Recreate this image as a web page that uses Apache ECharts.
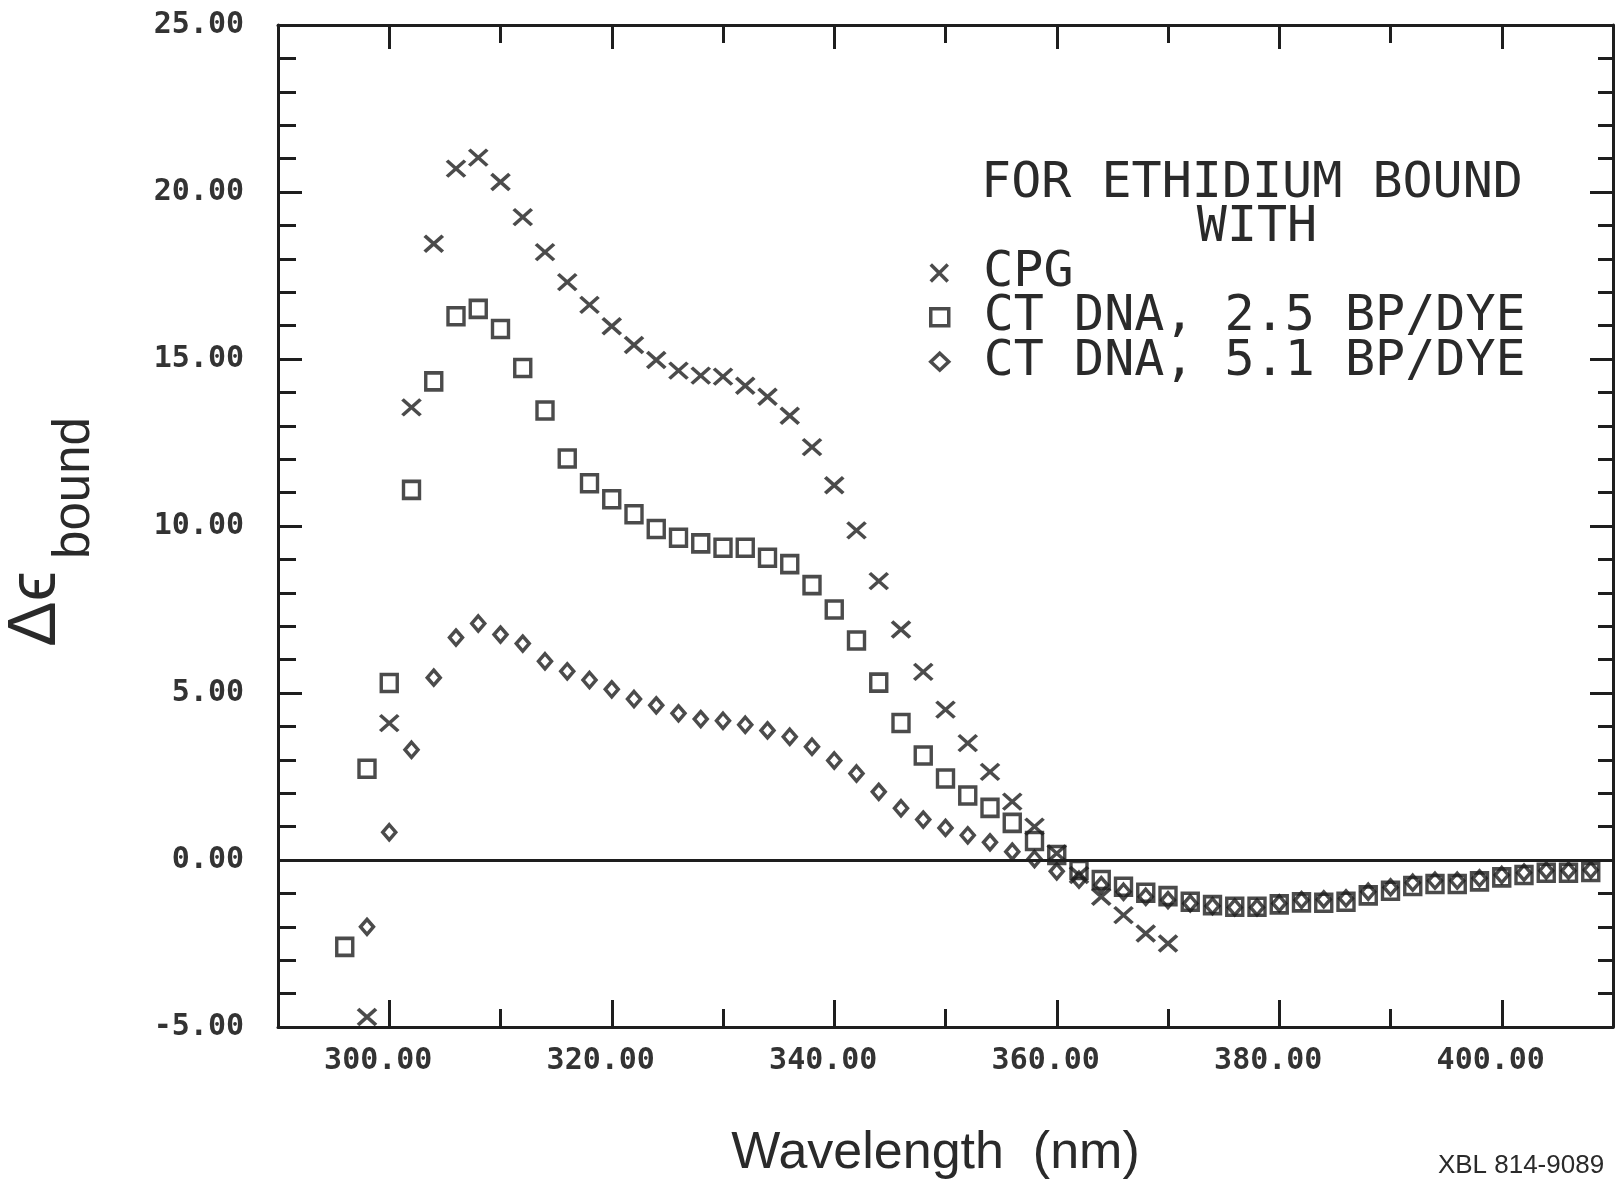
<!DOCTYPE html>
<html>
<head>
<meta charset="utf-8">
<script src="https://cdn.jsdelivr.net/npm/echarts@6/dist/echarts.min.js"></script>
<style>
html,body{margin:0;padding:0;background:#ffffff;}
#chart{width:1616px;height:1185px;}
</style>
</head>
<body>
<div id="chart"></div>
<script>
// ---------------- data ----------------
const seriesNames = ['CPG', 'CT DNA, 2.5 BP/DYE', 'CT DNA, 5.1 BP/DYE'];

const wavelengthsCpg = [298,300,302,304,306,308,310,312,314,316,318,320,322,324,326,328,330,332,334,336,338,340,342,344,346,348,350,352,354,356,358,360,362,364,366,368,370];
const cpgValues = [-4.7,4.1,13.55,18.45,20.7,21.03,20.3,19.25,18.2,17.3,16.62,15.98,15.42,14.97,14.65,14.5,14.47,14.2,13.87,13.3,12.36,11.22,9.87,8.35,6.9,5.63,4.5,3.5,2.64,1.75,1.0,0.2,-0.45,-1.1,-1.65,-2.2,-2.5];

const wavelengthsCt25 = [296,298,300,302,304,306,308,310,312,314,316,318,320,322,324,326,328,330,332,334,336,338,340,342,344,346,348,350,352,354,356,358,360,362,364,366,368,370,372,374,376,378,380,382,384,386,388,390,392,394,396,398,400,402,404,406,408];
const ct25Values = [-2.6,2.73,5.3,11.08,14.33,16.28,16.5,15.9,14.73,13.46,12.02,11.28,10.8,10.35,9.91,9.65,9.48,9.35,9.35,9.05,8.86,8.23,7.5,6.57,5.31,4.1,3.13,2.44,1.93,1.56,1.11,0.57,0.15,-0.3,-0.6,-0.8,-0.98,-1.08,-1.25,-1.35,-1.4,-1.4,-1.33,-1.27,-1.28,-1.25,-1.06,-0.92,-0.78,-0.72,-0.72,-0.64,-0.52,-0.45,-0.38,-0.38,-0.36];

const wavelengthsCt51 = [298,300,302,304,306,308,310,312,314,316,318,320,322,324,326,328,330,332,334,336,338,340,342,344,346,348,350,352,354,356,358,360,362,364,366,368,370,372,374,376,378,380,382,384,386,388,390,392,394,396,398,400,402,404,406,408];
const ct51Values = [-2.0,0.83,3.3,5.46,6.66,7.08,6.75,6.48,5.95,5.65,5.39,5.11,4.82,4.63,4.39,4.22,4.17,4.05,3.88,3.69,3.39,2.98,2.59,2.04,1.55,1.21,0.96,0.74,0.53,0.25,0.03,-0.34,-0.59,-0.75,-0.95,-1.1,-1.2,-1.3,-1.38,-1.42,-1.42,-1.3,-1.2,-1.18,-1.15,-0.95,-0.82,-0.68,-0.62,-0.62,-0.55,-0.45,-0.38,-0.32,-0.32,-0.3];

const xTickValues = [300,320,340,360,380,400];
const xMinorTickValues = [310,330,350,370,390];
const yTickValues = [-5,0,5,10,15,20,25];
const yMinorTickValues = [-4,-3,-2,-1,1,2,3,4,6,7,8,9,11,12,13,14,16,17,18,19,21,22,23,24];

const headerLines = ['FOR ETHIDIUM BOUND', 'WITH'];
const xAxisTitle = 'Wavelength  (nm)';
const yAxisTitleMain = 'Δϵ';
const yAxisTitleSub = 'bound';
const footnote = 'XBL 814-9089';

// ---------------- styling ----------------
const INK = '#1e1e1e';
const MONO = '"DejaVu Sans Mono", "Liberation Mono", monospace';
const SANS = '"Liberation Sans", "DejaVu Sans", sans-serif';
const X_MIN = 290, X_MAX = 410, Y_MIN = -5, Y_MAX = 25;
const LEGEND_TOPS = [248, 292.3, 336.7];

function pairs(xs, ys) { return xs.map((x, i) => [x, ys[i]]); }

function xAxisDef(pos, values, len, showLine, showLabel, extra) {
  return Object.assign({
    type: 'value', gridIndex: 0, position: pos, min: X_MIN, max: X_MAX,
    axisLine: { show: showLine, onZero: false, lineStyle: { color: INK, width: 3 } },
    axisTick: { show: true, inside: true, length: len, customValues: values, lineStyle: { color: INK, width: 3 } },
    axisLabel: showLabel ? {
      show: true, customValues: values, formatter: v => v.toFixed(2),
      margin: 19, fontFamily: MONO, fontWeight: 'bold', fontSize: 30, color: '#333333',
      padding: [0, 22, 0, 0]
    } : { show: false },
    splitLine: { show: false }
  }, extra || {});
}
function yAxisDef(pos, values, len, showLine, showLabel) {
  return {
    type: 'value', gridIndex: 0, position: pos, min: Y_MIN, max: Y_MAX,
    axisLine: { show: showLine, onZero: false, lineStyle: { color: INK, width: 3 } },
    axisTick: { show: true, inside: true, length: len, customValues: values, lineStyle: { color: INK, width: 3 } },
    axisLabel: showLabel ? {
      show: true, customValues: values, formatter: v => v.toFixed(2),
      margin: 34, fontFamily: MONO, fontWeight: 'bold', fontSize: 30, color: '#333333'
    } : { show: false },
    splitLine: { show: false }
  };
}
function legendDef(i) {
  return {
    orient: 'vertical', left: 929, top: LEGEND_TOPS[i], padding: 0, itemGap: 0,
    itemWidth: 18, itemHeight: 17, selectedMode: false,
    itemStyle: { borderWidth: 3.5, borderColor: INK, color: 'rgba(0,0,0,0)' },
    textStyle: { fontFamily: MONO, fontSize: 50, color: '#2a2a2a', lineHeight: 44, padding: [0, 0, 0, 30] },
    data: [seriesNames[i]]
  };
}

const markerStyle = { color: 'rgba(0,0,0,0)', borderColor: INK, borderWidth: 3.5 };
const crossPath = 'path://M0,0L10,10M10,0L0,10';

const option = {
  animation: false,
  backgroundColor: '#ffffff',
  grid: { left: 278, right: 3, top: 25, bottom: 154.5, containLabel: false },
  xAxis: [
    xAxisDef('bottom', xTickValues, 27, true, true, {
      name: xAxisTitle, nameLocation: 'middle', nameGap: 101,
      nameTextStyle: { fontFamily: SANS, fontSize: 52, color: '#2a2a2a', padding: [0, 20, 0, 0] }
    }),
    xAxisDef('bottom', xMinorTickValues, 18, false, false),
    xAxisDef('top', xTickValues, 24, true, false),
    xAxisDef('top', xMinorTickValues, 18, false, false)
  ],
  yAxis: [
    yAxisDef('left', yTickValues, 24, true, true),
    yAxisDef('left', yMinorTickValues, 18, false, false),
    yAxisDef('right', yTickValues, 23, true, false),
    yAxisDef('right', yMinorTickValues, 15, false, false)
  ],
  legend: [legendDef(0), legendDef(1), legendDef(2)],
  series: [
    {
      name: seriesNames[0], type: 'scatter', xAxisIndex: 0, yAxisIndex: 0,
      symbol: crossPath, symbolSize: [18, 16], itemStyle: markerStyle,
      data: pairs(wavelengthsCpg, cpgValues),
      markLine: {
        silent: true, symbol: ['none', 'none'], label: { show: false },
        lineStyle: { color: INK, width: 3, type: 'solid' },
        data: [{ yAxis: 0 }]
      }
    },
    {
      name: seriesNames[1], type: 'scatter', xAxisIndex: 0, yAxisIndex: 0,
      symbol: 'rect', symbolSize: [16, 17], itemStyle: markerStyle,
      data: pairs(wavelengthsCt25, ct25Values)
    },
    {
      name: seriesNames[2], type: 'scatter', xAxisIndex: 0, yAxisIndex: 0,
      symbol: 'diamond', symbolSize: [13, 15], itemStyle: markerStyle,
      data: pairs(wavelengthsCt51, ct51Values)
    }
  ],
  graphic: [
    { type: 'text', x: 1252, y: 184, silent: true,
      style: { text: headerLines[0], font: '50px ' + MONO, fill: '#2a2a2a', align: 'center', verticalAlign: 'middle' } },
    { type: 'text', x: 1257, y: 228, silent: true,
      style: { text: headerLines[1], font: '50px ' + MONO, fill: '#2a2a2a', align: 'center', verticalAlign: 'middle' } },
    { type: 'text', x: 36, y: 609, rotation: Math.PI / 2, silent: true,
      style: { text: yAxisTitleMain, font: '68px ' + SANS, fill: '#2a2a2a', align: 'center', verticalAlign: 'middle' } },
    { type: 'text', x: 75, y: 488, rotation: Math.PI / 2, silent: true,
      style: { text: yAxisTitleSub, font: '51px ' + SANS, fill: '#2a2a2a', align: 'center', verticalAlign: 'middle' } },
    { type: 'text', x: 1521, y: 1166, silent: true,
      style: { text: footnote, font: '26px ' + SANS, fill: '#2a2a2a', align: 'center', verticalAlign: 'middle' } }
  ]
};

const chart = echarts.init(document.getElementById('chart'), null, { renderer: 'canvas', width: 1616, height: 1185 });
chart.setOption(option);
</script>
</body>
</html>
